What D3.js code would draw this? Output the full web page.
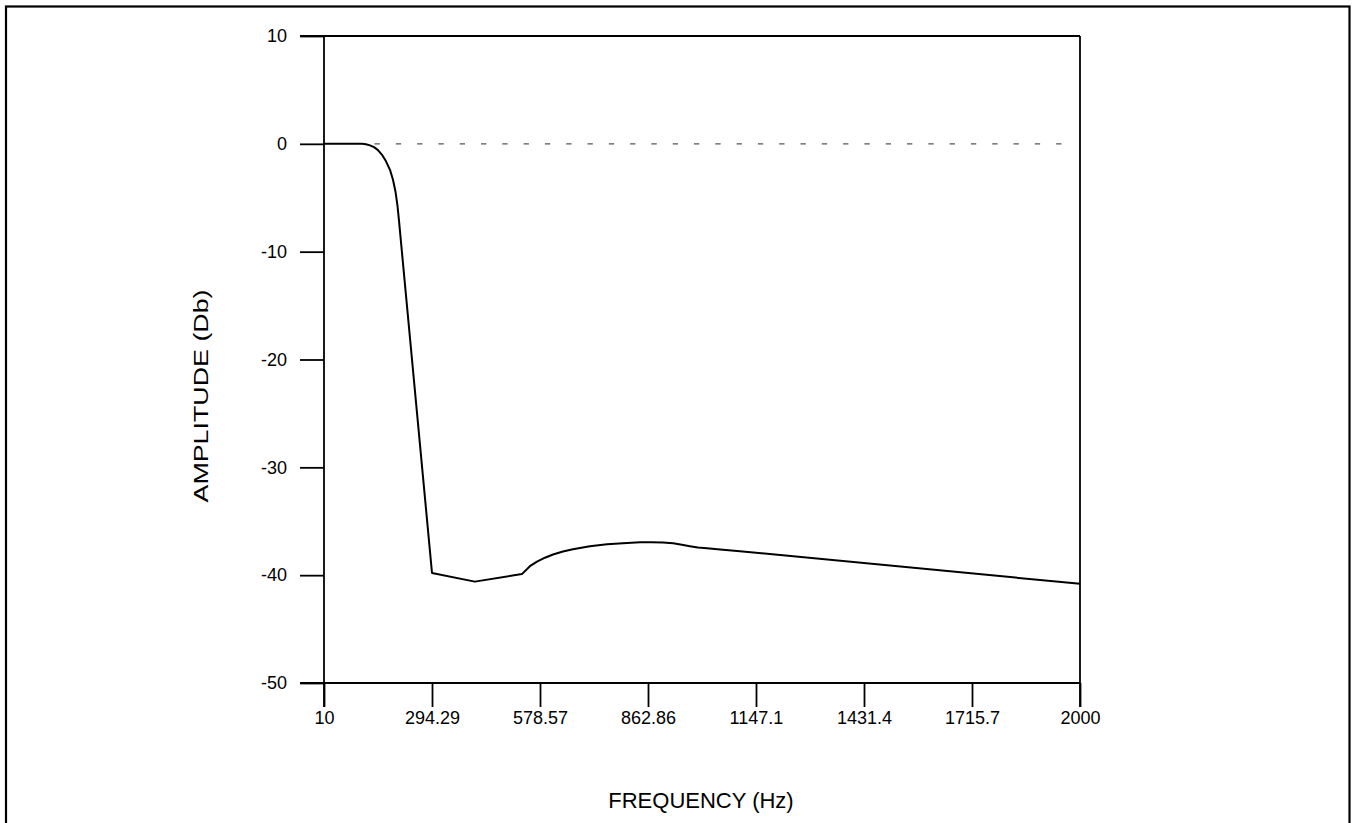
<!DOCTYPE html>
<html>
<head>
<meta charset="utf-8">
<script src="https://cdn.jsdelivr.net/npm/d3@7"></script>
<style>
  body { margin: 0; background: #fff; }
  svg { display: block; font-family: "Liberation Sans", Arial, sans-serif; }
</style>
</head>
<body>
<svg id="chart"></svg>
<script>
// frequency response (Hz, dB)
const freq = [10, 110, 120.6, 131.1, 141.6, 152.1, 162.7, 173.2, 183.7, 191.6, 198.2, 203.4, 207.4,
  294.3, 407, 531, 552, 570.7, 591.7, 612.8, 639, 665, 710, 755, 797, 842, 873, 902, 929, 952, 973, 994, 1018, 1060, 1105, 2000];
const amp = [0, 0, -0.04, -0.14, -0.31, -0.58, -1.02, -1.62, -2.41, -3.33, -4.44, -5.74, -7.13,
  -39.8, -40.6, -39.9, -39.17, -38.75, -38.38, -38.08, -37.81, -37.59, -37.31, -37.13, -37.04, -36.94, -36.94, -36.97, -37.04, -37.18, -37.31, -37.43, -37.5, -37.64, -37.78, -40.8];

const xTicks = [10, 294.29, 578.57, 862.86, 1147.1, 1431.4, 1715.7, 2000];
const xTickLabels = ['10', '294.29', '578.57', '862.86', '1147.1', '1431.4', '1715.7', '2000'];
const yTicks = [10, 0, -10, -20, -30, -40, -50];
const refLevel = [0];

const W = 1357;
const H = 823;

const margin = { top: 36, left: 324, right: 277, bottom: 140 };
const width = W - margin.left - margin.right;
const height = H - margin.top - margin.bottom;

const xScale = d3.scaleLinear()
  .domain([10, 2000])
  .range([0, width]);

const yScale = d3.scaleLinear()
  .domain([-50, 10])
  .range([height, 0]);

const svg = d3.select('#chart')
  .attr('width', W)
  .attr('height', H);

// outer frame
svg.append('rect')
  .attr('x', 6)
  .attr('y', 6.5)
  .attr('width', 1343.5)
  .attr('height', 900)
  .attr('fill', 'none')
  .attr('stroke', '#000')
  .attr('stroke-width', 2.2);

const g = svg.append('g')
  .attr('transform', `translate(${margin.left}, ${margin.top})`);

//
// axes
//
const yAxis = d3.axisLeft(yScale)
  .tickValues(yTicks)
  .tickSizeInner(24)
  .tickSizeOuter(0)
  .tickPadding(13)
  .tickFormat(d => String(d));

const xAxis = d3.axisBottom(xScale)
  .tickValues(xTicks)
  .tickSizeInner(24)
  .tickSizeOuter(0)
  .tickPadding(4)
  .tickFormat((d, i) => xTickLabels[i]);

const yg = g.append('g').call(yAxis);
const xg = g.append('g')
  .attr('transform', `translate(0, ${height})`)
  .call(xAxis);

[yg, xg].forEach(a => {
  a.select('.domain').remove();
  a.selectAll('line').attr('stroke', '#000').attr('stroke-width', 1.8);
  a.selectAll('text')
    .attr('fill', '#000')
    .style('font-size', '18px');
});
xg.selectAll('text').attr('dy', '0.71em');

// box lines: left, bottom, top, right
g.append('line')
  .attr('x1', 0).attr('x2', 0)
  .attr('y1', 0).attr('y2', height + 24)
  .attr('stroke', '#000').attr('stroke-width', 1.8);
g.append('line')
  .attr('x1', -24).attr('x2', width)
  .attr('y1', height).attr('y2', height)
  .attr('stroke', '#000').attr('stroke-width', 1.8);
g.append('line')
  .attr('x1', -24).attr('x2', width)
  .attr('y1', 0).attr('y2', 0)
  .attr('stroke', '#000').attr('stroke-width', 1.8);
g.append('line')
  .attr('x1', width).attr('x2', width)
  .attr('y1', 0).attr('y2', height + 24)
  .attr('stroke', '#000').attr('stroke-width', 1.8);

//
// 0 dB reference (dashed)
//
g.selectAll('.ref')
  .data(refLevel)
  .enter()
  .append('line')
  .attr('class', 'ref')
  .attr('x1', xScale(143))
  .attr('x2', xScale(1975))
  .attr('y1', d => yScale(d))
  .attr('y2', d => yScale(d))
  .attr('stroke', '#555')
  .attr('stroke-width', 1.2)
  .attr('stroke-dasharray', '5.3,16');

//
// response curve
//
const pts = freq.map((f, i) => [f, amp[i]]);
const line = d3.line()
  .x(d => xScale(d[0]))
  .y(d => yScale(d[1]));

g.append('path')
  .datum(pts)
  .attr('d', line)
  .attr('fill', 'none')
  .attr('stroke', '#000')
  .attr('stroke-width', 2)
  .attr('stroke-linejoin', 'round');

//
// titles
//
svg.append('text')
  .attr('x', 701)
  .attr('y', 808)
  .attr('text-anchor', 'middle')
  .style('font-size', '22px')
  .text('FREQUENCY (Hz)');

svg.append('text')
  .attr('transform', 'translate(208, 396) rotate(-90)')
  .attr('text-anchor', 'middle')
  .attr('textLength', 213)
  .attr('lengthAdjust', 'spacingAndGlyphs')
  .style('font-size', '20px')
  .text('AMPLITUDE (Db)');
</script>
</body>
</html>
